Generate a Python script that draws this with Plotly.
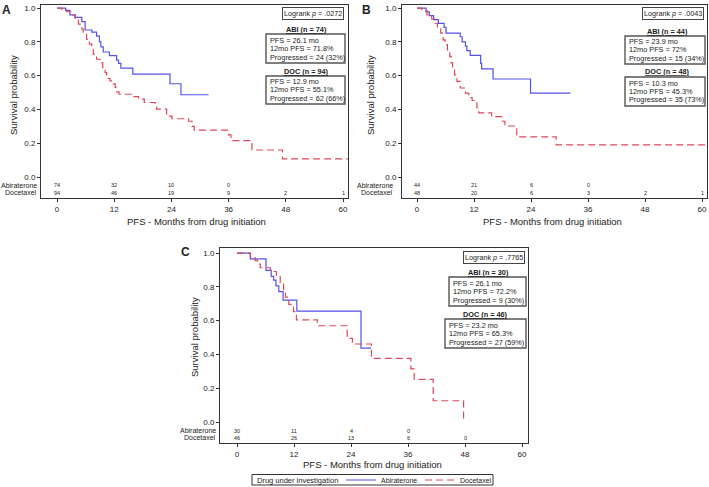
import plotly.graph_objects as go

W, H = 709, 487
FONT = "Liberation Sans, Arial, sans-serif"
BLUE = "#5252ec"
RED = "#e0475b"

# ---------------- data ----------------
month_ticks = [0, 12, 24, 36, 48, 60]
surv_ticks = [0.0, 0.2, 0.4, 0.6, 0.8, 1.0]
risk_times = [0, 12, 24, 36, 48, 60]

# Panel A
a_abi_t = [0, 1.8, 2.7, 3.8, 5.2, 5.9, 7.3, 8.3, 8.9, 9.2, 9.7, 11.0, 12.5, 12.9, 13.4, 15.9, 23.7, 26.0, 31.8]
a_abi_s = [1.0, 0.986, 0.96, 0.945, 0.92, 0.87, 0.857, 0.834, 0.80, 0.77, 0.74, 0.718, 0.692, 0.673, 0.645, 0.609, 0.552, 0.487, 0.487]
a_doc_t = [0, 1.0, 2.0, 3.1, 3.8, 4.5, 5.2, 5.5, 6.2, 6.8, 7.3, 7.6, 8.3, 9.0, 9.6, 10.1, 10.4, 11.1, 11.8, 12.2, 12.5,
           13.0, 15.7, 17.1, 18.3, 20.6, 20.9, 23.0, 24.1, 27.6, 28.3, 28.8, 36.0, 36.5, 40.9, 47.3, 61.0]
a_doc_s = [1.0, 0.99, 0.978, 0.96, 0.935, 0.905, 0.875, 0.845, 0.815, 0.786, 0.756, 0.727, 0.697, 0.677, 0.648, 0.618, 0.583,
           0.569, 0.551, 0.53, 0.504, 0.49, 0.476, 0.461, 0.441, 0.422, 0.402, 0.36, 0.345, 0.33, 0.30, 0.278, 0.25, 0.215,
           0.16, 0.107, 0.107]
a_abi_risk = [74, 32, 10, 0]
a_doc_risk = [94, 46, 19, 9, 2, 1]

# Panel B
b_abi_t = [0, 1.9, 2.6, 3.5, 4.5, 5.7, 6.1, 9.1, 9.5, 10.2, 10.5, 11.2, 13.4, 13.6, 16.0, 23.9, 32.3]
b_abi_s = [1.0, 0.977, 0.955, 0.932, 0.909, 0.886, 0.852, 0.83, 0.80, 0.775, 0.748, 0.72, 0.672, 0.64, 0.58, 0.497, 0.497]
b_doc_t = [0, 1.0, 2.1, 3.1, 3.8, 4.3, 5.0, 5.5, 5.9, 6.4, 6.9, 7.2, 7.5, 7.9, 8.4, 9.1, 10.2, 10.9, 11.6, 12.6, 13.0,
           15.7, 18.0, 18.5, 21.0, 29.3, 61.0]
b_doc_s = [1.0, 0.985, 0.96, 0.935, 0.91, 0.888, 0.852, 0.812, 0.783, 0.753, 0.714, 0.675, 0.645, 0.605, 0.566, 0.527,
           0.497, 0.47, 0.453, 0.41, 0.38, 0.357, 0.33, 0.302, 0.238, 0.19, 0.19]
b_abi_risk = [44, 21, 6, 0]
b_doc_risk = [48, 20, 6, 3, 2, 1]

# Panel C
c_abi_t = [0, 2.8, 6.1, 7.2, 7.7, 8.2, 8.8, 9.7, 12.6, 26.1, 28.2]
c_abi_s = [1.0, 0.966, 0.897, 0.862, 0.84, 0.806, 0.772, 0.722, 0.656, 0.437, 0.437]
c_doc_t = [0, 2.8, 3.8, 4.3, 4.9, 7.0, 8.3, 9.1, 9.8, 10.2, 10.9, 11.9, 12.5, 16.9, 23.2, 24.3, 28.3, 36.6, 37.3, 41.3, 47.7]
c_doc_s = [1.0, 0.978, 0.957, 0.935, 0.913, 0.891, 0.87, 0.826, 0.783, 0.739, 0.696, 0.653, 0.605, 0.57, 0.495, 0.462,
           0.377, 0.315, 0.252, 0.126, 0.0]
c_abi_risk = [30, 11, 4, 0]
c_doc_risk = [46, 26, 13, 6, 0]

logrank = [".0272", ".0043", ".7765"]
abi_n = [74, 44, 30]
doc_n = [94, 48, 46]
abi_stats = [["PFS = 26.1 mo", "12mo PFS = 71.8%", "Progressed = 24 (32%)"],
             ["PFS = 23.9 mo", "12mo PFS = 72%", "Progressed = 15 (34%)"],
             ["PFS = 26.1 mo", "12mo PFS = 72.2%", "Progressed = 9 (30%)"]]
doc_stats = [["PFS = 12.9 mo", "12mo PFS = 55.1%", "Progressed = 62 (66%)"],
             ["PFS = 10.3 mo", "12mo PFS = 45.3%", "Progressed = 35 (73%)"],
             ["PFS = 23.2 mo", "12mo PFS = 65.3%", "Progressed = 27 (59%)"]]
panel_letters = ["A", "B", "C"]
group_names = ["Abiraterone", "Docetaxel"]
legend_title = "Drug under investigation"

# ---------------- layout geometry (pixels) ----------------
def px(x):
    return x / W

def py(y):
    return 1 - y / H

panels = [
    dict(ax="", box=(41, 5, 348, 198), xr=[-3.36, 61.05], yr=[-0.124, 1.018],
         letter=(6, 10), ytitle=(13, 95), xtitle=(196, 221), rowlab_x=39,
         logrank=(313, 13), abi_head=(306, 29), abi_box=(266, 34, 345, 63),
         doc_head=(306, 71), doc_box=(266, 76, 345, 104),
         data=(a_abi_t, a_abi_s, a_doc_t, a_doc_s, a_abi_risk, a_doc_risk)),
    dict(ax="2", box=(402, 5, 707, 198), xr=[-3.16, 61.05], yr=[-0.124, 1.018],
         letter=(366, 10), ytitle=(370, 95), xtitle=(552, 221), rowlab_x=395,
         logrank=(673, 13), abi_head=(667, 31), abi_box=(625, 36, 705, 64),
         doc_head=(667, 72), doc_box=(625, 77, 705, 106),
         data=(b_abi_t, b_abi_s, b_doc_t, b_doc_s, b_abi_risk, b_doc_risk)),
    dict(ax="3", box=(220, 248, 528, 443), xr=[-3.58, 61.26], yr=[-0.124, 1.03],
         letter=(185, 252), ytitle=(194, 337), xtitle=(373, 464), rowlab_x=218,
         logrank=(494, 257), abi_head=(488, 272), abi_box=(449, 277, 526, 306),
         doc_head=(485, 314), doc_box=(445, 319, 526, 348),
         data=(c_abi_t, c_abi_s, c_doc_t, c_doc_s, c_abi_risk, c_doc_risk)),
]

fig = go.Figure()
annotations = []
shapes = []


def note(x, y, text, size, xanchor="center", xref="paper", yref="paper", **kw):
    d = dict(x=x, y=y, xref=xref, yref=yref, text=text, showarrow=False,
             xanchor=xanchor, yanchor="middle",
             font=dict(size=size, color="#222", family=FONT))
    d.update(kw)
    annotations.append(d)


for i, p in enumerate(panels):
    abi_t, abi_s, doc_t, doc_s, abi_r, doc_r = p["data"]
    xa = "x" + p["ax"]
    ya = "y" + p["ax"]
    fig.add_trace(go.Scatter(x=abi_t, y=abi_s, mode="lines", line=dict(color=BLUE, width=1.2, shape="hv"),
                             name=group_names[0], legendgroup="abi", showlegend=(i == 0),
                             xaxis=xa, yaxis=ya))
    fig.add_trace(go.Scatter(x=doc_t, y=doc_s, mode="lines",
                             line=dict(color=RED, width=1.2, shape="hv", dash="7px,4px"),
                             name=group_names[1], legendgroup="doc", showlegend=(i == 0),
                             xaxis=xa, yaxis=ya))
    x0, y0, x1, y1 = p["box"]
    axis_common = dict(showline=True, linecolor="#333", linewidth=1, mirror=True, ticks="outside",
                       ticklen=3, tickcolor="#333", showgrid=False, zeroline=False,
                       tickfont=dict(size=8, color="#222", family=FONT))
    fig.layout["xaxis" + p["ax"]] = dict(axis_common, domain=[px(x0), px(x1)], range=p["xr"],
                                         tickvals=month_ticks, anchor=ya)
    fig.layout["yaxis" + p["ax"]] = dict(axis_common, domain=[py(y1), py(y0)], range=p["yr"],
                                         tickvals=surv_ticks, tickformat=".1f", anchor=xa)

    # numbers at risk
    for t, n in zip(risk_times, abi_r):
        note(t, -0.05, str(n), 5.5, xref=xa, yref=ya)
    for t, n in zip(risk_times, doc_r):
        note(t, -0.093, str(n), 5.5, xref=xa, yref=ya)
    for lab, yy in zip(group_names, [-0.05, -0.093]):
        note(px(p["rowlab_x"]), yy, lab, 7, xanchor="right", yref=ya)

    # panel letter, axis titles
    note(px(p["letter"][0]), py(p["letter"][1]), "<b>" + panel_letters[i] + "</b>", 12)
    note(px(p["ytitle"][0]), py(p["ytitle"][1]), "Survival probability", 9.5, textangle=-90)
    note(px(p["xtitle"][0]), py(p["xtitle"][1]), "PFS - Months from drug initiation", 9.5)

    # logrank box
    note(px(p["logrank"][0]), py(p["logrank"][1]), "Logrank <i>p</i> = " + logrank[i], 7.2,
         bordercolor="#444", borderwidth=1, borderpad=1)

    # group stat boxes
    for head, hpos, bx, lines in [("ABI (n = %d)" % abi_n[i], p["abi_head"], p["abi_box"], abi_stats[i]),
                                  ("DOC (n = %d)" % doc_n[i], p["doc_head"], p["doc_box"], doc_stats[i])]:
        note(px(hpos[0]), py(hpos[1]), "<b><u>" + head + "</u></b>", 7.3)
        bx0, by0, bx1, by1 = bx
        shapes.append(dict(type="rect", xref="paper", yref="paper", x0=px(bx0), x1=px(bx1),
                           y0=py(by1), y1=py(by0), line=dict(color="#555", width=1.4)))
        cy = (by0 + by1) / 2
        for k, ln in enumerate(lines):
            note(px(bx0 + 2), py(cy + (k - 1) * 8.5), ln, 7.3, xanchor="left")

# legend frame and title (items come from the plotly legend)
shapes.append(dict(type="rect", xref="paper", yref="paper", x0=px(252), x1=px(493),
                   y0=py(485), y1=py(474.5), line=dict(color="#333", width=1)))
note(px(255), py(480), legend_title, 7.5, xanchor="left")

fig.update_layout(
    width=W, height=H, margin=dict(l=0, r=0, t=0, b=0, autoexpand=False),
    paper_bgcolor="white", plot_bgcolor="white",
    font=dict(family=FONT, color="#222"),
    annotations=annotations, shapes=shapes,
    showlegend=True,
    legend=dict(orientation="h", x=px(341), y=py(480), xanchor="left", yanchor="middle",
                borderwidth=0, bgcolor="rgba(0,0,0,0)",
                font=dict(size=7, family=FONT, color="#222"),
                itemwidth=30, tracegroupgap=0, entrywidth=34, entrywidthmode="pixels"),
)

fig.write_html("out.html", post_script="document.body.style.margin='0px';",
               config={"displayModeBar": False})
